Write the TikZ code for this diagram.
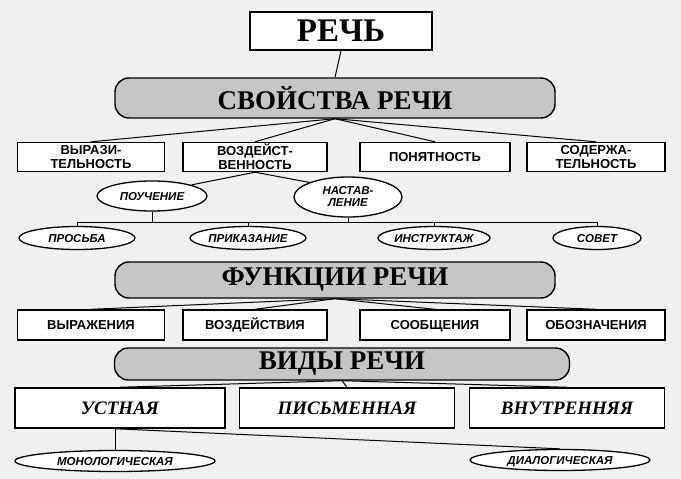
\documentclass[tikz,border=0pt]{standalone}
\usepackage{fontspec}
\setmainfont{Liberation Serif}
\newfontfamily\sansf{Liberation Sans}
\usetikzlibrary{shapes.geometric}
\begin{document}
\begin{tikzpicture}[x=1pt,y=-1pt,line width=1pt,
 topbox/.style={draw,line width=1.6pt,fill=white,minimum width=182pt,minimum height=38pt,font=\bfseries\fontsize{33}{33}\selectfont},
 banner/.style={draw,line width=1.4pt,rounded corners=14pt,fill=gray!45,font=\bfseries\fontsize{27}{27}\selectfont},
 prop/.style={draw,line width=1.4pt,fill=white,align=center,inner sep=1pt,font=\sansf\bfseries\fontsize{13}{14}\selectfont},
 one/.style={text height=9.5pt,text depth=1pt},
 oval/.style={draw,ellipse,line width=1.3pt,fill=white,inner sep=0pt,align=center,font=\sansf\bfseries\itshape\fontsize{11.5}{12}\selectfont},
 kind/.style={draw,line width=1.5pt,fill=white,minimum height=40pt,text height=13pt,text depth=1pt,font=\bfseries\itshape\fontsize{19}{19}\selectfont}]
\fill[gray!12] (0,0) rectangle (681,479);
\useasboundingbox (0,0) rectangle (681,479);
\node[topbox] (rech) at (341,31) {РЕЧЬ};
\node[banner,minimum width=440pt,minimum height=40pt] (sv) at (335,98) {СВОЙСТВА РЕЧИ};
\node[prop,minimum width=147pt,minimum height=29pt] (p1) at (91,157) {ВЫРАЗИ-\\ТЕЛЬНОСТЬ};
\node[prop,minimum width=144pt,minimum height=29pt] (p2) at (255,157) {ВОЗДЕЙСТ-\\ВЕННОСТЬ};
\node[prop,one,minimum width=150pt,minimum height=29pt] (p3) at (435,157) {ПОНЯТНОСТЬ};
\node[prop,minimum width=138pt,minimum height=29pt] (p4) at (596,157) {СОДЕРЖА-\\ТЕЛЬНОСТЬ};
\node[oval,one,minimum width=110pt,minimum height=30pt] (po) at (152,196) {ПОУЧЕНИЕ};
\node[oval,minimum width=108pt,minimum height=40pt] (na) at (348,197) {НАСТАВ-\\ЛЕНИЕ};
\node[oval,one,minimum width=116pt,minimum height=23pt] (e1) at (77,238) {ПРОСЬБА};
\node[oval,one,minimum width=116pt,minimum height=23pt] (e2) at (248,238) {ПРИКАЗАНИЕ};
\node[oval,one,minimum width=112pt,minimum height=23pt] (e3) at (434,238) {ИНСТРУКТАЖ};
\node[oval,one,minimum width=88pt,minimum height=23pt] (e4) at (597,238) {СОВЕТ};
\node[banner,minimum width=440pt,minimum height=36pt] (fu) at (335,280) {ФУНКЦИИ РЕЧИ};
\node[prop,one,minimum width=147pt,minimum height=30pt] (f1) at (91,325) {ВЫРАЖЕНИЯ};
\node[prop,one,minimum width=144pt,minimum height=30pt] (f2) at (255,325) {ВОЗДЕЙСТВИЯ};
\node[prop,one,minimum width=150pt,minimum height=30pt] (f3) at (435,325) {СООБЩЕНИЯ};
\node[prop,one,minimum width=138pt,minimum height=30pt] (f4) at (596,325) {ОБОЗНАЧЕНИЯ};
\node[banner,minimum width=455pt,minimum height=32pt] (vi) at (342,364) {ВИДЫ РЕЧИ};
\node[kind,minimum width=210pt] (k1) at (120,408) {УСТНАЯ};
\node[kind,minimum width=215pt] (k2) at (347,408) {ПИСЬМЕННАЯ};
\node[kind,minimum width=195pt] (k3) at (567,408) {ВНУТРЕННЯЯ};
\node[oval,one,minimum width=200pt,minimum height=21pt] (m1) at (115,461) {МОНОЛОГИЧЕСКАЯ};
\node[oval,one,minimum width=180pt,minimum height=21pt] (m2) at (560,460) {ДИАЛОГИЧЕСКАЯ};
\draw (rech.south) -- (sv.north);
\foreach \p in {p1,p2,p3,p4} \draw (sv.south) -- (\p.north);
\draw (p2.south) -- (po.north east);
\draw (p2.south) -- (na.north west);
\coordinate (hl) at (77,222);
\coordinate (hr) at (597,222);
\draw (hl) -- (hr);
\draw (po.south) -- (po.south |- hl);
\draw (na.south) -- (na.south |- hl);
\foreach \e in {e1,e2,e3,e4} \draw (\e.north) -- (\e.north |- hl);
\foreach \f in {f1,f2,f3,f4} \draw (fu.south) -- (\f.north);
\foreach \k in {k1,k2,k3} \draw (vi.south) -- (\k.north);
\coordinate (ks) at (k1.south -| m1.north);
\draw (ks) -- (m1.north);
\draw (ks) -- (m2.north);
\end{tikzpicture}
\end{document}
